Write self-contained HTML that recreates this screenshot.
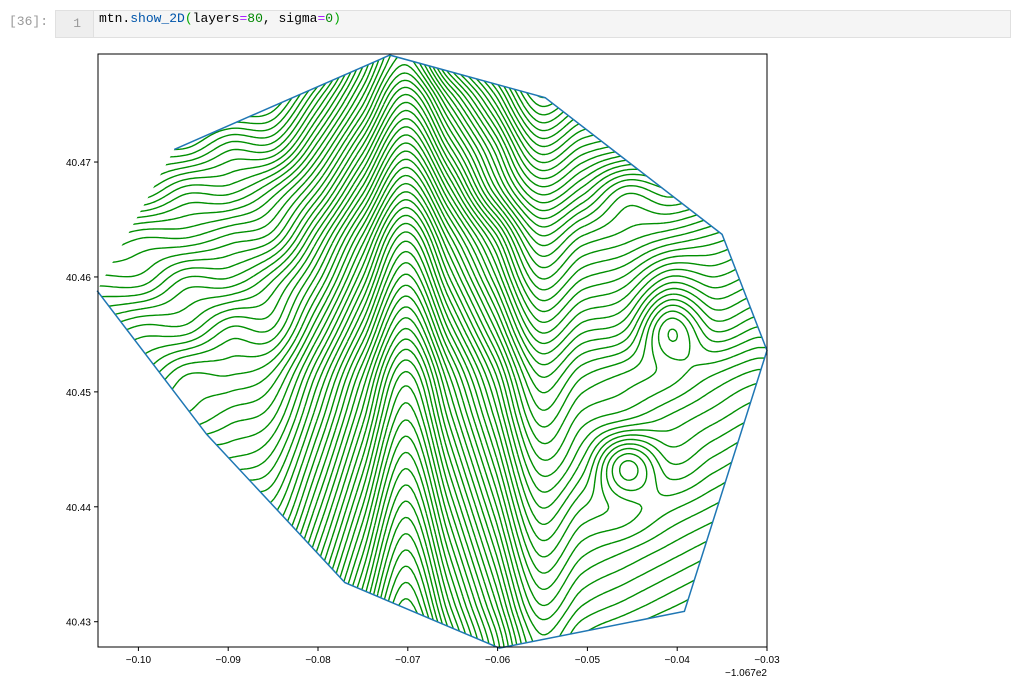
<!DOCTYPE html>
<html><head><meta charset="utf-8"><style>
body{margin:0;width:1015px;height:689px;background:#fff;font-family:"Liberation Sans",sans-serif;overflow:hidden;position:relative}
.prompt{position:absolute;left:9px;top:14px;color:#999;font:13px "Liberation Mono",monospace}
.cell{position:absolute;left:55px;top:10px;width:956px;height:28px;background:#f5f5f5;border:1px solid #e0e0e0;box-sizing:border-box}
.ln{position:absolute;left:0;top:0;width:38px;height:26px;background:#eee;border-right:1px solid #e0e0e0;color:#999;font:13px "Liberation Mono",monospace;text-align:right;line-height:26px;padding-right:12px;box-sizing:border-box}
.code{position:absolute;left:43px;top:0;line-height:26px;font:13px "Liberation Mono",monospace;color:#000}
</style></head><body>
<div class="prompt">[36]:</div>
<div class="cell"><div class="ln">1</div>
<div class="code">mtn.<span style="color:#0055aa">show_2D</span><span style="color:#00aa00">(</span>layers<span style="color:#aa22ff">=</span><span style="color:#008800">80</span>, sigma<span style="color:#aa22ff">=</span><span style="color:#008800">0</span><span style="color:#00aa00">)</span></div></div>
<svg id="chart" width="1015" height="689" style="position:absolute;left:0;top:0"></svg>
<script>
const xTicks=[-0.10,-0.09,-0.08,-0.07,-0.06,-0.05,-0.04,-0.03];
const xTickLabels=["\u22120.10","\u22120.09","\u22120.08","\u22120.07","\u22120.06","\u22120.05","\u22120.04","\u22120.03"];
const yTicks=[40.43,40.44,40.45,40.46,40.47];
const yTickLabels=["40.43","40.44","40.45","40.46","40.47"];
const boundaryX=[-0.0960,-0.0720,-0.0547,-0.0350,-0.0300,-0.0392,-0.0598,-0.0770,-0.0924,-0.1046];
const boundaryY=[40.4711,40.4793,40.4756,40.4637,40.4536,40.4309,40.4277,40.4334,40.4463,40.4588];
const gridX0=-0.1045, gridX1=-0.031;
const gridY0=40.4794, gridY1=40.4278;
const elev=[
[0,1,1,2,4,8,15,20,13,8,3,4,5,7,7,9],
[4,4,6,6,7,12,18,24,18,12,6,8,9,10,11,12],
[8,9,9,11,11,16,22,28,22,16,10,12,13,14,15,16],
[12,12,14,14,16,20,26,32,26,19,14,16,19,18,19,20],
[16,17,17,18,19,24,30,36,30,24,18,20,21,22,23,24],
[19,19,21,21,23,27,33,39,33,27,21,23,24,27,26,27],
[22,23,23,25,25,30,36,42,36,30,24,26,27,32,29,30],
[25,25,27,27,28,33,39,45,39,33,27,29,30,31,32,33],
[27,28,28,29,30,35,41,47,41,35,29,31,32,33,34,35],
[29,29,31,31,32,37,43,49,43,37,31,33,38,35,36,37],
[31,32,32,34,34,39,45,51,45,39,33,35,36,37,38,39],
[33,33,35,35,36,41,47,53,47,41,35,37,38,39,40,41],
[35,36,36,38,38,43,49,55,49,43,37,39,40,41,42,43],
[37,37,39,39,40,45,51,57,51,45,39,41,42,43,44,45]];
const layers=80;

const L=98,R=767,T=54,B=647,xmin=-0.1045,xmax=-0.03,ymin=40.4278,ymax=40.4794;
const sx=v=>L+(v-xmin)/(xmax-xmin)*(R-L);
const sy=v=>B-(v-ymin)/(ymax-ymin)*(B-T);
const svg=document.getElementById('chart');const NS='http://www.w3.org/2000/svg';
function mk(t,a,p){const e=document.createElementNS(NS,t);for(const k in a)e.setAttribute(k,a[k]);(p||svg).appendChild(e);return e;}
const defs=mk('defs',{});const cp=mk('clipPath',{id:'poly'},defs);
const pts=boundaryX.map((x,i)=>sx(x).toFixed(1)+','+sy(boundaryY[i]).toFixed(1)).join(' ');
mk('polygon',{points:pts},cp);
const NC=elev[0].length,NR=elev.length;
function E(j,i){j=Math.max(0,Math.min(NR-1,j));i=Math.max(0,Math.min(NC-1,i));return elev[j][i];}
function cr(p0,p1,p2,p3,t){return p1+0.5*t*(p2-p0+t*(2*p0-5*p1+4*p2-p3+t*(3*(p1-p2)+p3-p0)));}
function field(x,y){
 let fx=(x-gridX0)/(gridX1-gridX0)*(NC-1);
 let fy=(gridY0-y)/(gridY0-gridY1)*(NR-1);
 fx=Math.max(0,Math.min(NC-1.0001,fx));fy=Math.max(0,Math.min(NR-1.0001,fy));
 const i=Math.floor(fx),j=Math.floor(fy),u=fx-i,v=fy-j;
 const rows=[];for(let m=-1;m<=2;m++)rows.push(cr(E(j+m,i-1),E(j+m,i),E(j+m,i+1),E(j+m,i+2),u));
 return cr(rows[0],rows[1],rows[2],rows[3],v);
}
const NX=220,NY=200,F=[];
for(let j=0;j<=NY;j++){F[j]=[];for(let i=0;i<=NX;i++){F[j][i]=field(xmin+(xmax-xmin)*i/NX,ymax-(ymax-ymin)*j/NY);}}
const px=i=>L+(R-L)*i/NX,py=j=>T+(B-T)*j/NY;
const g=mk('g',{'clip-path':'url(#poly)'});


let lo=Infinity,hi=-Infinity;elev.forEach(r=>r.forEach(v=>{lo=Math.min(lo,v);hi=Math.max(hi,v);}));
for(let k=1;k<layers;k++){
 const lv=lo+(hi-lo)*k/layers+0.013;let d='';
 for(let j=0;j<NY;j++)for(let i=0;i<NX;i++){
  const a=F[j][i],b=F[j][i+1],c=F[j+1][i+1],e=F[j+1][i];const p=[];
  const ed=(v1,v2,x1,y1,x2,y2)=>{if((v1<lv)!==(v2<lv)){const t=(lv-v1)/(v2-v1);p.push([x1+(x2-x1)*t,y1+(y2-y1)*t]);}};
  ed(a,b,px(i),py(j),px(i+1),py(j));ed(b,c,px(i+1),py(j),px(i+1),py(j+1));
  ed(c,e,px(i+1),py(j+1),px(i),py(j+1));ed(e,a,px(i),py(j+1),px(i),py(j));
  for(let q=0;q+1<p.length;q+=2)d+='M'+p[q][0].toFixed(1)+' '+p[q][1].toFixed(1)+'L'+p[q+1][0].toFixed(1)+' '+p[q+1][1].toFixed(1);
 }
 if(d){const pa=mk('path',{d:d,stroke:'#008f00','stroke-width':1.4,fill:'none'},g);
 
 }
}
const bl=mk('polyline',{points:pts,stroke:'#1f77b4','stroke-width':1.5,fill:'none'});


const fr=mk('rect',{x:L,y:T,width:R-L,height:B-T,fill:'none',stroke:'#000','stroke-width':1});


xTicks.forEach((v,i)=>{const x=sx(v);mk('line',{x1:x,x2:x,y1:B,y2:B+4,stroke:'#000'});
 const t=mk('text',{x:x,y:B+16,'text-anchor':'middle','font-size':10,fill:'#000'});t.textContent=xTickLabels[i];
 
 });
yTicks.forEach((v,i)=>{const y=sy(v);mk('line',{x1:L-4,x2:L,y1:y,y2:y,stroke:'#000'});
 const t=mk('text',{x:L-7,y:y+4,'text-anchor':'end','font-size':10,fill:'#000'});t.textContent=yTickLabels[i];
 
 });
const off=mk('text',{x:R,y:B+29,'text-anchor':'end','font-size':10,fill:'#000'});off.textContent='\u22121.067e2';


</script>
</body></html>
